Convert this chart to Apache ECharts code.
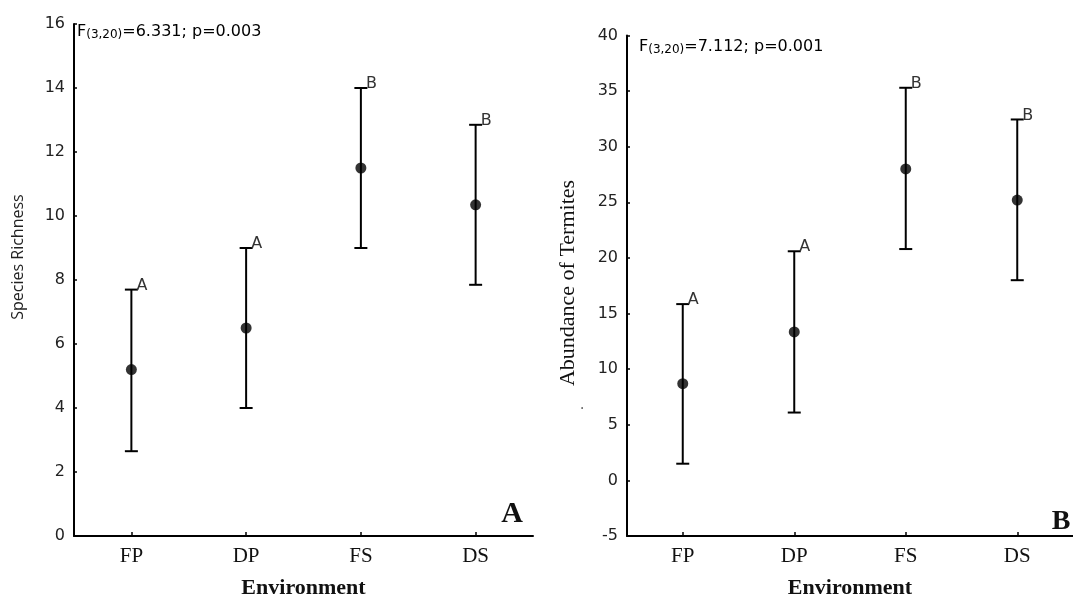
<!DOCTYPE html>
<html><head><meta charset="utf-8">
<script src="https://cdn.jsdelivr.net/npm/echarts@6/dist/echarts.min.js"></script>
<style>html,body{margin:0;padding:0;background:#fff}#c{width:1073px;height:604px}</style>
</head><body><div id="c"></div>
<script>
const categories = ['FP', 'DP', 'FS', 'DS'];
const richnessMean = [5.2, 6.5, 11.5, 10.35];
const richnessLow = [2.65, 4.0, 9.0, 7.85];
const richnessHigh = [7.7, 9.0, 14.0, 12.85];
const richnessGroups = ['A', 'A', 'B', 'B'];
const abundanceMean = [8.7, 13.35, 28.0, 25.2];
const abundanceLow = [1.5, 6.1, 20.8, 18.0];
const abundanceHigh = [15.85, 20.6, 35.3, 32.45];
const abundanceGroups = ['A', 'A', 'B', 'B'];
const richnessAxis = { min: 0, max: 16, interval: 2 };
const abundanceAxis = { min: -5, max: 40, interval: 5 };
const statLeft = { sub: '(3,20)', rest: '=6.331; p=0.003' };
const statRight = { sub: '(3,20)', rest: '=7.112; p=0.001' };

const chart = echarts.init(document.getElementById('c'), null, { renderer: 'canvas' });

function errRender(groups) {
  return function (params, api) {
    const x = api.value(0);
    const lo = api.coord([x, api.value(1)]);
    const hi = api.coord([x, api.value(2)]);
    const hw = 6.5;
    const st = { stroke: '#000', lineWidth: 2 };
    return {
      type: 'group',
      children: [
        { type: 'line', shape: { x1: lo[0], y1: lo[1], x2: hi[0], y2: hi[1] }, style: st },
        { type: 'line', shape: { x1: hi[0] - hw, y1: hi[1], x2: hi[0] + hw, y2: hi[1] }, style: st },
        { type: 'line', shape: { x1: lo[0] - hw, y1: lo[1], x2: lo[0] + hw, y2: lo[1] }, style: st },
        { type: 'text', x: hi[0] + 5, y: hi[1] + 4,
          style: { text: groups[params.dataIndex], fontSize: 16, fontFamily: 'DejaVu Sans', fill: '#333', align: 'left', verticalAlign: 'bottom' } }
      ]
    };
  };
}

function xAxisCfg(gi) {
  return {
    type: 'category', gridIndex: gi, data: categories, boundaryGap: true,
    axisLine: { onZero: false, lineStyle: { color: '#000', width: 2 } },
    axisTick: { show: true, alignWithLabel: true, inside: true, length: 4, lineStyle: { color: '#000', width: 1.5 } },
    axisLabel: { fontFamily: 'Liberation Serif', fontSize: 21, color: '#111', margin: 10 },
    splitLine: { show: false },
    name: 'Environment', nameLocation: 'middle', nameGap: 52,
    nameTextStyle: { fontFamily: 'Liberation Serif', fontWeight: 'bold', fontSize: 22, color: '#111', verticalAlign: 'middle' }
  };
}
function yAxisCfg(gi, ax) {
  return {
    type: 'value', gridIndex: gi, min: ax.min, max: ax.max, interval: ax.interval,
    axisLine: { show: true, onZero: false, lineStyle: { color: '#000', width: 2 } },
    axisTick: { show: true, inside: true, length: 3, lineStyle: { color: '#000', width: 1.5 } },
    axisLabel: { fontFamily: 'DejaVu Sans', fontSize: 16, color: '#222', margin: 9 },
    splitLine: { show: false }
  };
}
function statText(x, y, s) {
  return {
    type: 'text', x: x, y: y,
    style: {
      text: '{a|F}{s|' + s.sub + '}{a|' + s.rest + '}',
      align: 'left', verticalAlign: 'top',
      rich: {
        a: { fontFamily: 'DejaVu Sans', fontSize: 16, lineHeight: 18, color: '#222', verticalAlign: 'top' },
        s: { fontFamily: 'DejaVu Sans', fontSize: 12, lineHeight: 18, color: '#222', verticalAlign: 'top', padding: [5, 0, 0, 0] }
      }
    }
  };
}

const option = {
  animation: false,
  backgroundColor: '#fff',
  grid: [
    { left: 74, top: 24, width: 459, height: 516 },
    { left: 627, top: 35.5, width: 450, height: 508.5 }
  ],
  xAxis: [xAxisCfg(0), xAxisCfg(1)],
  yAxis: [yAxisCfg(0, richnessAxis), yAxisCfg(1, abundanceAxis)],
  series: [
    { type: 'custom', xAxisIndex: 0, yAxisIndex: 0, renderItem: errRender(richnessGroups),
      encode: { x: 0, y: [1, 2] }, z: 2,
      data: categories.map((c, i) => [i, richnessLow[i], richnessHigh[i]]) },
    { type: 'scatter', xAxisIndex: 0, yAxisIndex: 0, symbol: 'circle', symbolSize: 11,
      itemStyle: { color: '#000' }, z: 3,
      data: categories.map((c, i) => [i, richnessMean[i]]) },
    { type: 'custom', xAxisIndex: 1, yAxisIndex: 1, renderItem: errRender(abundanceGroups),
      encode: { x: 0, y: [1, 2] }, z: 2,
      data: categories.map((c, i) => [i, abundanceLow[i], abundanceHigh[i]]) },
    { type: 'scatter', xAxisIndex: 1, yAxisIndex: 1, symbol: 'circle', symbolSize: 11,
      itemStyle: { color: '#000' }, z: 3,
      data: categories.map((c, i) => [i, abundanceMean[i]]) }
  ],
  graphic: [
    statText(77, 24, statLeft),
    statText(639, 39, statRight),
    { type: 'text', x: 18, y: 257, rotation: Math.PI / 2,
      style: { text: 'Species Richness', fontFamily: 'Open Sans', fontSize: 16, fill: '#222', align: 'center', verticalAlign: 'middle' } },
    { type: 'text', x: 568, y: 283, rotation: Math.PI / 2,
      style: { text: 'Abundance of Termites', fontFamily: 'Liberation Serif', fontSize: 22, fill: '#111', align: 'center', verticalAlign: 'middle' } },
    { type: 'text', x: 579, y: 408, rotation: Math.PI / 2,
      style: { text: '.', fontFamily: 'Liberation Serif', fontSize: 14, fill: '#111', align: 'center', verticalAlign: 'middle' } },
    { type: 'text', x: 512, y: 514,
      style: { text: 'A', fontFamily: 'Liberation Serif', fontWeight: 'bold', fontSize: 30, fill: '#111', align: 'center', verticalAlign: 'middle' } },
    { type: 'text', x: 1061, y: 522,
      style: { text: 'B', fontFamily: 'Liberation Serif', fontWeight: 'bold', fontSize: 28, fill: '#111', align: 'center', verticalAlign: 'middle' } }
  ]
};
chart.setOption(option);
</script>
</body></html>
